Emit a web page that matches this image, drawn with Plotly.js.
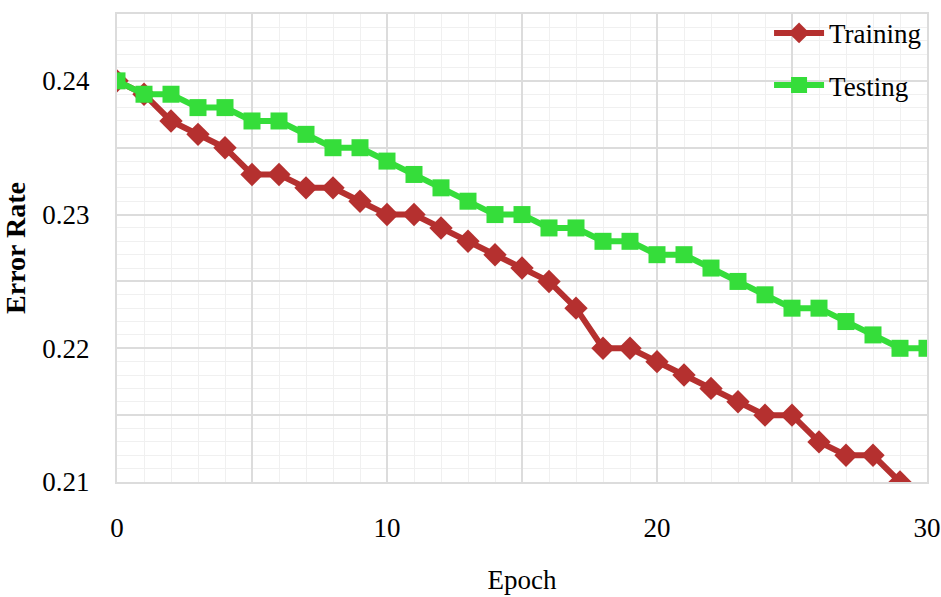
<!DOCTYPE html>
<html>
<head>
<meta charset="utf-8">
<script src="https://cdn.plot.ly/plotly-3.0.1.min.js"></script>
<style>html,body{margin:0;padding:0;background:#fff;}#chart{width:941px;height:597px;}</style>
</head>
<body>
<div id="chart"></div>
<script>
const epochsTrain = [0,1,2,3,4,5,6,7,8,9,10,11,12,13,14,15,16,17,18,19,20,21,22,23,24,25,26,27,28,29];
const training = [0.240,0.239,0.237,0.236,0.235,0.233,0.233,0.232,0.232,0.231,0.230,0.230,0.229,0.228,0.227,0.226,0.225,0.223,0.220,0.220,0.219,0.218,0.217,0.216,0.215,0.215,0.213,0.212,0.212,0.210];
const epochsTest = [0,1,2,3,4,5,6,7,8,9,10,11,12,13,14,15,16,17,18,19,20,21,22,23,24,25,26,27,28,29,30];
const testing = [0.240,0.239,0.239,0.238,0.238,0.237,0.237,0.236,0.235,0.235,0.234,0.233,0.232,0.231,0.230,0.230,0.229,0.229,0.228,0.228,0.227,0.227,0.226,0.225,0.224,0.223,0.223,0.222,0.221,0.220,0.220];
const xTickVals = [0,5,10,15,20,25,30];
const xTickText = ['0','','10','','20','','30'];
const yTickVals = [0.21,0.215,0.22,0.225,0.23,0.235,0.24,0.245];
const yTickText = ['0.21','','0.22','','0.23','','0.24',''];

const font = 'Liberation Serif, Times New Roman, serif';
const traces = [
  {x: epochsTrain, y: training, name: 'Training', type: 'scatter', mode: 'lines+markers',
   legendgroup: 'a', legendrank: 1,
   line: {color: '#b5302f', width: 6}, marker: {symbol: 'diamond', size: 18, color: '#b5302f'}},
  {x: epochsTest, y: testing, name: 'Testing', type: 'scatter', mode: 'lines+markers',
   legendgroup: 'b', legendrank: 2,
   line: {color: '#35dd3a', width: 6}, marker: {symbol: 'square', size: 17, color: '#35dd3a'}}
];
const layout = {
  width: 941, height: 597,
  margin: {l: 117, r: 14, t: 14, b: 115, autoexpand: false},
  paper_bgcolor: '#fff', plot_bgcolor: '#fff',
  font: {family: font, color: '#000', size: 24},
  xaxis: {range: [0, 30], tickvals: xTickVals, ticktext: xTickText, showgrid: true,
          gridcolor: '#dcdcdc', gridwidth: 2, zeroline: false,
          showline: true, mirror: true, linecolor: '#dcdcdc', linewidth: 2,
          ticks: '', ticklabelstandoff: 21, tickfont: {family: font, size: 27},
          minor: {dtick: 1, showgrid: true, gridcolor: '#f0f0f0', gridwidth: 1},
          title: {text: 'Epoch', font: {family: font, size: 27}, standoff: 28}},
  yaxis: {range: [0.21, 0.245], tickvals: yTickVals, ticktext: yTickText, showgrid: true,
          gridcolor: '#dcdcdc', gridwidth: 2, zeroline: false,
          showline: true, mirror: true, linecolor: '#dcdcdc', linewidth: 2,
          ticks: '', ticklabelstandoff: 20, tickfont: {family: font, size: 27},
          minor: {dtick: 0.001, showgrid: true, gridcolor: '#f0f0f0', gridwidth: 1},
          title: {text: '<b>Error Rate</b>', font: {family: font, size: 28}, standoff: 14}},
  showlegend: true,
  legend: {x: 0.805, y: 1.011, xanchor: 'left', yanchor: 'top', bgcolor: 'rgba(0,0,0,0)',
           itemwidth: 50,
           font: {family: font, size: 27}, traceorder: 'grouped', tracegroupgap: 14},
};
Plotly.newPlot('chart', traces, layout, {staticPlot: true});
</script>
</body>
</html>
